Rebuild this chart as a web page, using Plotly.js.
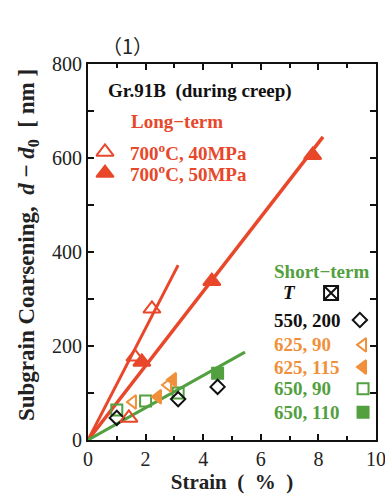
<!DOCTYPE html>
<html><head><meta charset="utf-8">
<script src="https://cdn.plot.ly/plotly-3.0.1.min.js"></script>
<style>body{margin:0;background:#fff}#g{width:385px;height:501px}</style>
</head><body><div id="g"></div>
<script>
// Long-term data (strain %, d - d0 nm)
const lt40_x = [1.42, 1.63, 2.22];
const lt40_y = [47, 177, 279];
const lt50_x = [1.87, 4.30, 7.80];
const lt50_y = [166, 338, 606];
// Fit lines
const fit40_x = [0, 3.13], fit40_y = [0, 372];
const fit50_x = [0, 8.16], fit50_y = [0, 645];
const fitS_x = [0, 5.45], fitS_y = [0, 187];
// Short-term data
const s550_x = [1.0, 3.13, 4.5], s550_y = [47, 87, 113];
const s625a_x = [1.56, 2.78], s625a_y = [81, 117];
const s625b_x = [2.43, 2.95], s625b_y = [92, 128];
const s650a_x = [1.0, 2.0, 3.13], s650a_y = [64, 83, 100];
const s650b_x = [4.5], s650b_y = [142];
const xTicks = [0, 2, 4, 6, 8, 10];
const yTicks = [0, 200, 400, 600, 800];

const RED = '#e8472a', ORANGE = '#f0903a', GREEN = '#53a040', BLACK = '#111';
const SERIF = 'Liberation Serif, Times New Roman, serif';

function line(x, y, c, w) { return {x, y, mode: 'lines', line: {color: c, width: w}, hoverinfo: 'skip'}; }
function pts(x, y, sym, c, sz, fill) {
  return {x, y, mode: 'markers', marker: {symbol: sym, size: sz, color: fill ? c : 'rgba(255,255,255,0)', line: {color: c, width: 2}}};
}
function key(fx, fy, sym, c, sz, fill) {
  const t = pts([fx], [fy], sym, c, sz, fill); t.xaxis = 'x2'; t.yaxis = 'y2'; return t;
}

const data = [
  line(fit40_x, fit40_y, RED, 3),
  line(fit50_x, fit50_y, RED, 3.5),
  line(fitS_x, fitS_y, GREEN, 3),
  pts(s650a_x, s650a_y, 'square', GREEN, 11, false),
  pts(s650b_x, s650b_y, 'square', GREEN, 11, true),
  pts(s625a_x, s625a_y, 'triangle-left', ORANGE, 12, false),
  pts(s625b_x, s625b_y, 'triangle-left', ORANGE, 12, true),
  pts(s550_x, s550_y, 'diamond', BLACK, 11, false),
  pts(lt40_x, lt40_y, 'triangle-up', RED, 15, false),
  pts(lt50_x, lt50_y, 'triangle-up', RED, 15, true),
  // legend keys
  key(0.059, 0.766, 'triangle-up', RED, 15, false),
  key(0.059, 0.710, 'triangle-up', RED, 15, true),
  key(0.844, 0.391, 'square-x', BLACK, 14, false),
  key(0.944, 0.319, 'diamond', BLACK, 11, false),
  key(0.955, 0.253, 'triangle-left', ORANGE, 12, false),
  key(0.955, 0.194, 'triangle-left', ORANGE, 12, true),
  key(0.955, 0.136, 'square', GREEN, 11, false),
  key(0.955, 0.074, 'square', GREEN, 11, true)
];

function ann(text, fx, fy, color, xanchor, extra) {
  return Object.assign({text: '<b>' + text + '</b>', x: fx, y: fy, xref: 'paper', yref: 'paper',
    xanchor: xanchor || 'left', yanchor: 'middle', showarrow: false,
    font: {family: SERIF, size: 19, color: color}}, extra || {});
}

const L = 88, R = 9, T = 64, B = 61, W = 385, H = 501;
const pw = W - L - R, ph = H - T - B;

const annotations = [
  ann('Gr.91B  (during creep)', 0.0625, 0.928, BLACK),
  ann('Long\u2212term', 0.142, 0.848, RED),
  ann('700<sup>o</sup>C, 40MPa', 0.139, 0.766, RED),
  ann('700<sup>o</sup>C, 50MPa', 0.139, 0.710, RED),
  ann('Short\u2212term', 0.639, 0.449, GREEN),
  ann('<i>T</i>', 0.701, 0.391, BLACK, 'center'),
  ann('550, 200', 0.639, 0.319, BLACK),
  ann('625, 90', 0.639, 0.253, ORANGE),
  ann('625, 115', 0.639, 0.194, ORANGE),
  ann('650, 90', 0.639, 0.136, GREEN),
  ann('650, 110', 0.639, 0.074, GREEN),
  {text: '\uff081\uff09', x: (127 - L) / pw, y: (H - B - 45) / ph, xref: 'paper', yref: 'paper',
    xanchor: 'center', yanchor: 'middle', showarrow: false,
    font: {family: 'Noto Sans CJK JP, Noto Sans', size: 20, color: '#222'}},
  // y-axis title
  {text: '<b>Subgrain Coarsening,  <i>d</i> \u2212 <i>d</i><sub>0</sub>  [ nm ]</b>',
    x: (28 - L) / pw, y: (H - B - 245) / ph, xref: 'paper', yref: 'paper', textangle: -90,
    xanchor: 'center', yanchor: 'middle', showarrow: false,
    font: {family: SERIF, size: 23, color: '#222'}}
];

const axisCommon = {
  showgrid: false, zeroline: false, showline: true, mirror: 'allticks',
  linecolor: '#111', linewidth: 2, ticks: 'inside', ticklen: 6, tickwidth: 2, tickcolor: '#111',
  tickfont: {family: SERIF, size: 20, color: '#222'}, ticklabeloverflow: 'allow'
};

const layout = {
  width: W, height: H, margin: {l: L, r: R, t: T, b: B},
  paper_bgcolor: '#fff', plot_bgcolor: '#fff', showlegend: false,
  xaxis: Object.assign({}, axisCommon, {
    range: [0, 10], tickvals: xTicks, ticktext: xTicks.map(String),
    minor: {dtick: 1, ticks: 'inside', ticklen: 4, tickwidth: 2, tickcolor: '#111'},
    title: {text: '<b>Strain  (  %  )</b>', font: {family: SERIF, size: 21, color: '#222'}, standoff: 4}
  }),
  yaxis: Object.assign({}, axisCommon, {
    range: [0, 800], tickvals: yTicks, ticktext: yTicks.map(String),
    minor: {dtick: 100, ticks: 'inside', ticklen: 6, tickwidth: 2, tickcolor: '#111'}
  }),
  xaxis2: {overlaying: 'x', range: [0, 1], visible: false, fixedrange: true},
  yaxis2: {overlaying: 'y', range: [0, 1], visible: false, fixedrange: true},
  annotations
};

Plotly.newPlot('g', data, layout, {displayModeBar: false, staticPlot: true});
</script></body></html>
